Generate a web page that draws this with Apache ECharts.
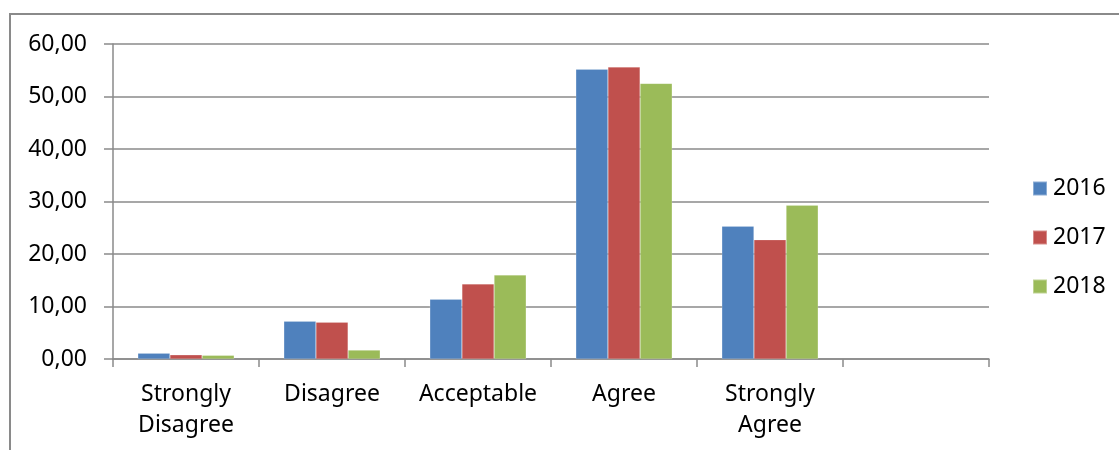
<!DOCTYPE html>
<html>
<head>
<meta charset="utf-8">
<script src="https://cdn.jsdelivr.net/npm/echarts@6/dist/echarts.min.js"></script>
<style>
  html, body { margin: 0; padding: 0; background: #fff; }
  #chart { width: 1119px; height: 450px; }
</style>
</head>
<body>
<div id="chart"></div>
<script>
// Response categories (the sixth slot is intentionally empty)
const categories = ['Strongly\nDisagree', 'Disagree', 'Acceptable', 'Agree', 'Strongly\nAgree', ''];
const years = ['2016', '2017', '2018'];
const values2016 = [1.1, 7.2, 11.4, 55.2, 25.3, null];
const values2017 = [0.8, 7.0, 14.3, 55.6, 22.7, null];
const values2018 = [0.7, 1.7, 16.0, 52.5, 29.3, null];
const yTicks = { min: 0, max: 60, interval: 10 };

const colors = ['#4F81BD', '#C0504D', '#9BBB59'];
const gridGray = '#8A8A8A';
const fontFamily = '"Noto Sans", "DejaVu Sans", sans-serif';

const chart = echarts.init(document.getElementById('chart'));
const seriesData = [values2016, values2017, values2018];

chart.setOption({
  animation: false,
  color: colors,
  textStyle: { fontFamily: fontFamily },
  graphic: [{
    type: 'rect',
    shape: { x: 10, y: 14, width: 1200, height: 500 },
    style: { fill: 'none', stroke: gridGray, lineWidth: 2 },
    silent: true
  }],
  grid: { left: 113, right: 130, top: 44, bottom: 91, containLabel: false },
  legend: {
    orient: 'vertical',
    left: 1032,
    top: 177,
    padding: 0,
    itemWidth: 14,
    itemHeight: 14,
    itemGap: 26,
    icon: 'rect',
    textStyle: { fontSize: 23, lineHeight: 22, color: '#000', fontFamily: fontFamily, padding: [0, 0, 0, 1] },
    data: years
  },
  xAxis: {
    type: 'category',
    data: categories,
    axisLine: { lineStyle: { color: gridGray, width: 1.5 } },
    axisTick: { show: true, length: 8, alignWithLabel: false, lineStyle: { color: gridGray, width: 1.5 } },
    axisLabel: { interval: 0, fontSize: 23, color: '#000', lineHeight: 31, margin: 20, fontFamily: fontFamily }
  },
  yAxis: {
    type: 'value',
    min: yTicks.min,
    max: yTicks.max,
    interval: yTicks.interval,
    axisLine: { show: true, lineStyle: { color: gridGray, width: 1.5 } },
    axisTick: { show: true, length: 9, lineStyle: { color: gridGray, width: 1.5 } },
    splitLine: { lineStyle: { color: gridGray, width: 1.5 } },
    axisLabel: {
      fontSize: 23, color: '#000', margin: 26, fontFamily: fontFamily,
      formatter: v => v.toFixed(2).replace('.', ',')
    }
  },
  series: years.map((y, i) => ({
    name: y,
    type: 'bar',
    data: seriesData[i],
    barGap: '0%',
    barCategoryGap: '34%',
    itemStyle: { color: colors[i], borderColor: 'rgba(255,255,255,0.35)', borderWidth: 0.5 }
  }))
});
</script>
</body>
</html>
